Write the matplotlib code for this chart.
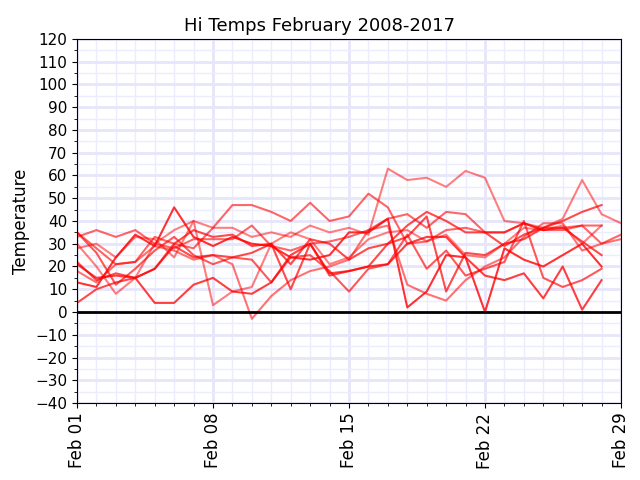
import numpy as np
import pandas as pd
import matplotlib
matplotlib.use('Agg')
from matplotlib import pyplot as plt
import matplotlib.dates as mdates

# daily high temps for February, one list per year
hi_2008 = [30, 20, 8, 15, 30, 36, 40, 37, 37, 33, 35, 33, 38, 35, 37, 34, 63, 58, 59, 55, 62, 59, 40, 39, 37, 41, 58, 43, 39]
hi_2009 = [33, 36, 33, 36, 30, 28, 32, 32, 32, 38, 29, 27, 30, 31, 33, 36, 41, 43, 37, 44, 43, 35, 35, 39, 36, 37, 38, 38]
hi_2010 = [4, 10, 13, 15, 19, 30, 36, 33, 34, 29, 30, 21, 32, 30, 23, 28, 30, 38, 44, 40, 35, 35, 29, 34, 37, 37, 31, 25]
hi_2011 = [21, 15, 16, 15, 4, 4, 12, 15, 9, 8, 13, 25, 30, 17, 18, 20, 21, 30, 33, 33, 24, 16, 14, 17, 6, 20, 1, 14]
hi_2012 = [35, 28, 21, 22, 33, 30, 28, 37, 47, 47, 44, 40, 48, 40, 42, 52, 46, 30, 31, 36, 37, 35, 35, 39, 36, 36, 38, 30, 34]
hi_2013 = [28, 30, 24, 33, 32, 24, 40, 3, 9, 11, 30, 35, 32, 21, 24, 32, 35, 36, 31, 34, 25, 24, 30, 37, 36, 38, 30, 38]
hi_2014 = [22, 14, 17, 15, 19, 29, 24, 25, 24, 26, 30, 10, 30, 16, 18, 20, 30, 33, 42, 9, 26, 25, 30, 32, 37, 40, 44, 47]
hi_2015 = [13, 11, 24, 34, 29, 46, 33, 29, 33, 30, 29, 24, 23, 25, 35, 35, 41, 2, 9, 25, 24, 0, 28, 23, 20, 25, 30, 20]
hi_2016 = [18, 13, 21, 22, 29, 27, 23, 25, 21, -3, 7, 14, 18, 20, 23, 36, 38, 12, 8, 5, 14, 20, 24, 33, 39, 39, 27, 30, 32]
hi_2017 = [35, 26, 12, 19, 27, 33, 25, 21, 24, 23, 13, 24, 25, 18, 9, 19, 21, 34, 19, 27, 16, 19, 22, 40, 15, 11, 14, 19]

years = ['2008', '2009', '2010', '2011', '2012', '2013', '2014', '2015', '2016', '2017']
series = [hi_2008, hi_2009, hi_2010, hi_2011, hi_2012,
          hi_2013, hi_2014, hi_2015, hi_2016, hi_2017]
alphas = [0.5, 0.6, 0.7, 0.75, 0.6, 0.5, 0.7, 0.8, 0.55, 0.65]

fig = plt.figure(figsize=(6.4, 4.8), dpi=100)
ax = fig.add_axes([0.1203, 0.1604, 0.85, 0.7584])

for yr, vals, a in zip(years, series, alphas):
    # put every year on the 2016 calendar so Feb 29 has a slot
    days = pd.date_range('2016-02-01', periods=len(vals), freq='D')
    ax.plot(days, vals, color='red', alpha=a, linewidth=1.5)

ax.axhline(0, color='black', linewidth=2)

ax.set_xlim(pd.Timestamp('2016-02-01'), pd.Timestamp('2016-02-29'))
ax.set_ylim(-40, 120)
ax.set_yticks(np.arange(-40, 121, 10))
ax.set_yticks(np.arange(-40, 121, 5), minor=True)
ax.xaxis.set_major_locator(mdates.DayLocator(bymonthday=[1, 8, 15, 22, 29]))
ax.xaxis.set_minor_locator(mdates.DayLocator())
ax.xaxis.set_major_formatter(mdates.DateFormatter('%b %d'))
plt.setp(ax.get_xticklabels(), rotation=90, fontsize=12)
plt.setp(ax.get_yticklabels(), fontsize=11)

ax.grid(which='major', color='#e6e6fa', linewidth=2)
ax.grid(which='minor', color='#ececff', linewidth=1)
ax.set_axisbelow(True)

ax.set_ylabel('Temperature', fontsize=12)
fig.suptitle('Hi Temps February 2008-2017', fontsize=13, y=0.965)

fig.savefig('out.png', dpi=100)
